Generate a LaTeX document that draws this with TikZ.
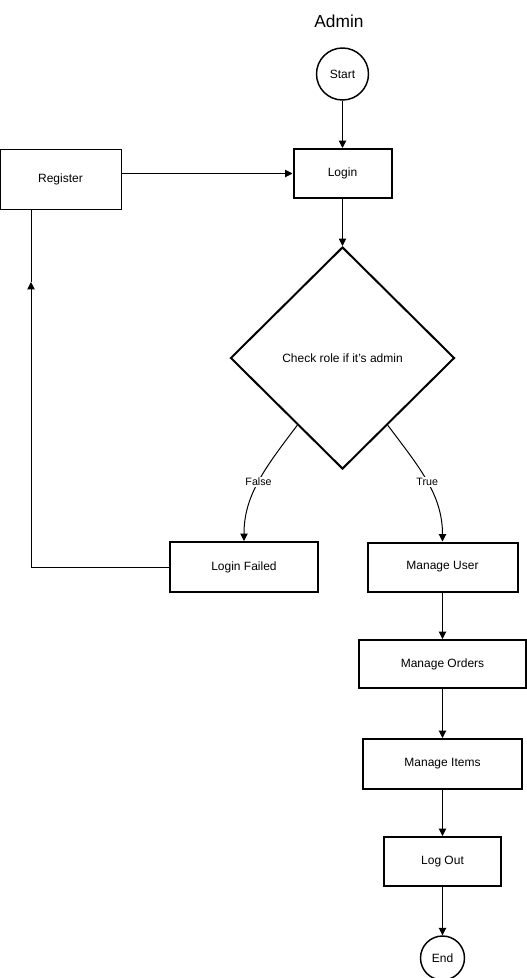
\documentclass[tikz,border=0pt]{standalone}
\usepackage{fontspec}
\setmainfont{Liberation Sans}
\usetikzlibrary{positioning,calc,arrows.meta,shapes.geometric}

\tikzset{
    box/.style={draw, line width=1.5pt, rectangle, inner sep=0pt, font=\fontsize{9pt}{11pt}\selectfont},
    terminal/.style={draw, line width=1.1pt, circle, inner sep=0pt, font=\fontsize{9pt}{11pt}\selectfont},
    decision/.style={draw, line width=1.5pt, diamond, inner sep=0pt, font=\fontsize{9pt}{11pt}\selectfont},
    flow/.style={line width=0.75pt, -{Triangle[width=5.5pt,length=5.5pt]}},
    branch/.style={fill=white, inner sep=1pt, font=\fontsize{8pt}{10pt}\selectfont}
}

\begin{document}
\begin{tikzpicture}[x=0.75pt, y=-0.75pt]
        \useasboundingbox (0,0) rectangle (527,978);
        % title
        \node (title) at (339,21) {\fontsize{13pt}{15pt}\selectfont Admin};
        % start and login
        \node[terminal, minimum size=39pt] (start) at (342.5,74) {Start};
        \node[box, minimum width=73.5pt, minimum height=36.75pt] (login) at (342.5,173.5) {Login};
        \node[box, line width=0.75pt, minimum width=90.75pt, minimum height=45pt] (reg) at (60.5,179) {Register};
        % the check
        \node[decision, minimum width=168pt, minimum height=166.5pt] (chk) at (342.5,358) {Check role if it's admin};
        % the two branches
        \node[box, minimum width=111pt, minimum height=37.5pt] (fail) at (244,567) {Login Failed};
        \node[box, minimum width=112.5pt, minimum height=36.75pt] (user) at (442.5,567) {Manage User};
        \node[box, minimum width=125.25pt, minimum height=36pt] (orders) at (442.5,664) {Manage Orders};
        \node[box, minimum width=119.25pt, minimum height=37.5pt] (items) at (442.5,764) {Manage Items};
        \node[box, minimum width=87.75pt, minimum height=36.75pt] (logout) at (442.5,861.5) {Log Out};
        \node[terminal, minimum size=33pt] (end) at (442.5,958) {End};
        % draw the connectors
        \draw[flow] (start) -- (login);
        \draw[flow] (login) -- (chk);
        \draw[flow] (reg.east |- login) -- (login.west);
        \coordinate (lf) at ($(chk.south)!0.4!(chk.west)$);
        \coordinate (rt) at ($(chk.south)!0.4!(chk.east)$);
        \draw[flow] (lf) .. controls (265,468) and (244,495) .. (fail.north)
            node[branch, pos=0.5] {False};
        \draw[flow] (rt) .. controls (420,468) and (442.5,495) .. (user.north)
            node[branch, pos=0.5] {True};
        \draw[flow] (user) -- (orders);
        \draw[flow] (orders) -- (items);
        \draw[flow] (items) -- (logout);
        \draw[flow] (logout) -- (end);
        % back to register
        \coordinate (back) at (31,282);
        \draw[flow] (fail.west) -| (back);
        \draw[line width=0.75pt] (back) -- (back |- reg.south);
    \end{tikzpicture}
\end{document}
